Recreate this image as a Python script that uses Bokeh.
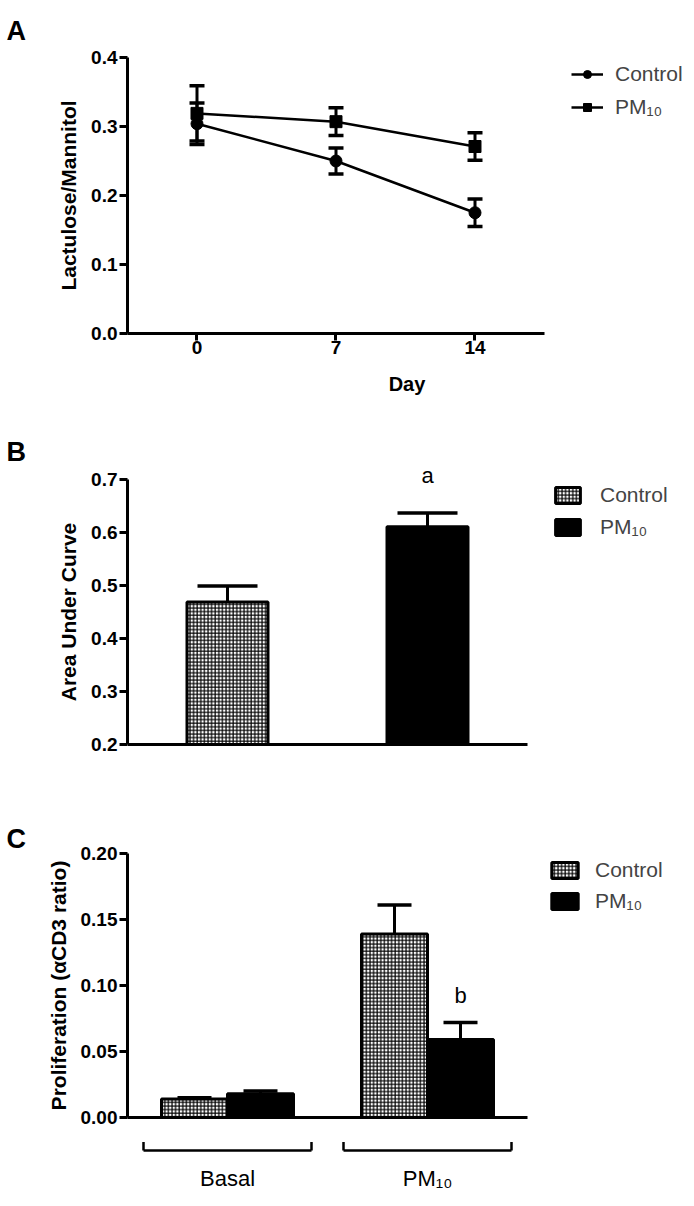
from bokeh.plotting import figure
from bokeh.models import (ColumnDataSource, Whisker, TeeHead, FixedTicker, Legend,
                          LegendItem, NumeralTickFormatter, Range1d)
from bokeh.layouts import column
from bokeh.embed import file_html
from bokeh.resources import INLINE

FONT = "Liberation Sans"

# ---------------- data ----------------
# Panel A
days = [0, 7, 14]
ctrl_ratio = [0.304, 0.250, 0.175]
ctrl_sem = [0.030, 0.019, 0.020]
pm_ratio = [0.319, 0.307, 0.271]
pm_sem = [0.040, 0.020, 0.020]
a_yticks = [0.0, 0.1, 0.2, 0.3, 0.4]
a_xticks = [0, 7, 14]

# Panel B
groups_b = ["Control", "PM₁₀"]
auc = [0.469, 0.611]
auc_sem = [0.030, 0.026]
auc_sig = ["", "a"]
b_yticks = [0.2, 0.3, 0.4, 0.5, 0.6, 0.7]

# Panel C
stim = ["Basal", "PM₁₀"]
prol_ctrl = [0.014, 0.139]
prol_ctrl_sem = [0.001, 0.022]
prol_pm = [0.018, 0.059]
prol_pm_sem = [0.002, 0.013]
prol_sig = ["", "b"]
c_yticks = [0.0, 0.05, 0.10, 0.15, 0.20]

FRAME_W = 559   # frame spans from the y axis to the right edge


def style_axes(p):
    for ax in p.axis:
        ax.axis_line_width = 3
        ax.axis_line_color = "black"
        ax.major_tick_line_width = 3
        ax.major_tick_line_color = "black"
        ax.major_tick_out = 8
        ax.major_tick_in = 0
        ax.minor_tick_line_color = None
        ax.major_label_text_font = FONT
        ax.major_label_text_font_style = "bold"
        ax.major_label_text_font_size = "19px"
        ax.major_label_text_color = "black"
        ax.major_label_standoff = 2
        ax.axis_label_text_font = FONT
        ax.axis_label_text_font_style = "bold"
        ax.axis_label_text_font_size = "21px"
        ax.axis_label_text_color = "black"
        ax.axis_label_standoff = 8


def panel_letter(p, text, standoff):
    p.title.text = text
    p.title.align = "left"
    p.title.offset = -121
    p.title.text_font = FONT
    p.title.text_font_style = "bold"
    p.title.text_font_size = "27px"
    p.title.text_color = "black"
    p.title.standoff = standoff


def make_legend(items, x, y, gw, gh, spacing, standoff):
    return Legend(items=items, location=(x, y), orientation="vertical",
                  border_line_color=None, background_fill_alpha=0, padding=0, margin=0,
                  spacing=spacing, glyph_width=gw, glyph_height=gh, label_height=gh,
                  label_standoff=standoff, label_text_font=FONT, label_text_font_size="21px",
                  label_text_baseline="middle")


common = dict(output_backend="svg", toolbar_location=None, outline_line_color=None,
              min_border_left=127, min_border_right=0, frame_width=FRAME_W)

bar_styles = [dict(fill_color="white", hatch_pattern="cross", hatch_scale=3.6,
                   hatch_weight=1.2, hatch_color="black"),
              dict(fill_color="black")]

# ---------------- Panel A ----------------
pA = figure(frame_height=276, min_border_top=57, min_border_bottom=67,
            x_range=Range1d(-3.5, -3.5 + FRAME_W / 19.857), y_range=Range1d(0, 0.4),
            **common)
pA.grid.visible = False
pA.yaxis.ticker = FixedTicker(ticks=a_yticks)
pA.yaxis.formatter = NumeralTickFormatter(format="0.0")
pA.xaxis.ticker = FixedTicker(ticks=a_xticks)
pA.xaxis.bounds = (-3.5, 17.5)
pA.yaxis.axis_label = "Lactulose/Mannitol"
pA.xaxis.axis_label = "Day"
style_axes(pA)
pA.xaxis.major_tick_out = 7
pA.xaxis.major_label_standoff = 0
pA.xaxis.axis_label_standoff = 16
pA.xaxis.axis_label_text_font_size = "20px"

renA = []
for ys, es, mk in [(ctrl_ratio, ctrl_sem, "circle"), (pm_ratio, pm_sem, "square")]:
    src = ColumnDataSource(dict(x=days, y=ys,
                                lo=[a - b for a, b in zip(ys, es)],
                                hi=[a + b for a, b in zip(ys, es)]))
    ln = pA.line("x", "y", source=src, line_width=2.5, line_color="black")
    sc = pA.scatter("x", "y", source=src, marker=mk, size=12, fill_color="black",
                    line_color="black")
    pA.add_layout(Whisker(source=src, base="x", lower="lo", upper="hi", line_width=3,
                          line_color="black", level="glyph",
                          upper_head=TeeHead(size=15, line_width=3.5, line_color="black"),
                          lower_head=TeeHead(size=15, line_width=3.5, line_color="black")))
    renA.append([ln, sc])

pA.add_layout(make_legend([LegendItem(label="Control", renderers=renA[0]),
                           LegendItem(label="PM₁₀", renderers=renA[1])],
                          444, 214, 32, 20, 9, 12))
panel_letter(pA, "A", 24)

# ---------------- Panel B ----------------
B_EXT = 12 * 0.5 / 265
pB = figure(frame_height=289, min_border_top=67, min_border_bottom=34,
            x_range=Range1d(0.5, 0.5 + FRAME_W / 200), y_range=Range1d(0.2 - B_EXT, 0.7 + B_EXT),
            **common)
pB.grid.visible = False
pB.yaxis.ticker = FixedTicker(ticks=b_yticks)
pB.yaxis.formatter = NumeralTickFormatter(format="0.0")
pB.yaxis.bounds = (0.2, 0.7)
pB.yaxis.axis_label = "Area Under Curve"
style_axes(pB)
pB.xaxis.ticker = FixedTicker(ticks=[])
pB.xaxis.fixed_location = 0.2
pB.xaxis.bounds = (0.5, 2.5)

xb = [1, 2]
renB = []
for i in range(2):
    r = pB.vbar(x=[xb[i]], top=[auc[i]], bottom=0.2, width=0.405, line_color="black",
                line_width=3, **bar_styles[i])
    renB.append(r)
srcB = ColumnDataSource(dict(x=xb, y=auc, hi=[a + b for a, b in zip(auc, auc_sem)],
                             sig=auc_sig))
pB.add_layout(Whisker(source=srcB, base="x", lower="y", upper="hi", line_width=3,
                      line_color="black", level="glyph",
                      upper_head=TeeHead(size=60, line_width=3.5, line_color="black"),
                      lower_head=None))
pB.text(x="x", y="hi", text="sig", source=srcB, y_offset=-37, text_align="center",
        text_baseline="middle", text_font_size="22px", text_font={"value": FONT})
pB.add_layout(make_legend([LegendItem(label=groups_b[0], renderers=[renB[0]]),
                           LegendItem(label=groups_b[1], renderers=[renB[1]])],
                          425, 217, 31, 20, 8, 17))
panel_letter(pB, "B", 2)

# ---------------- Panel C ----------------
pC = figure(frame_height=264, min_border_top=63, min_border_bottom=14,
            x_range=Range1d(0.5, 0.5 + FRAME_W / 200), y_range=Range1d(0, 0.2), **common)
pC.grid.visible = False
pC.yaxis.ticker = FixedTicker(ticks=c_yticks)
pC.yaxis.formatter = NumeralTickFormatter(format="0.00")
pC.yaxis.axis_label = "Proliferation (αCD3 ratio)"
style_axes(pC)
pC.xaxis.ticker = FixedTicker(ticks=[])
pC.xaxis.major_tick_out = 0
pC.xaxis.bounds = (0.5, 2.5)

xc = [1, 2]
DODGE = 0.165
renC = []
for vals, sems, off, st in [(prol_ctrl, prol_ctrl_sem, -DODGE, bar_styles[0]),
                            (prol_pm, prol_pm_sem, DODGE, bar_styles[1])]:
    xs = [x + off for x in xc]
    r = pC.vbar(x=xs, top=vals, bottom=0, width=0.33, line_color="black", line_width=3, **st)
    renC.append(r)
    s = ColumnDataSource(dict(x=xs, y=vals, hi=[a + b for a, b in zip(vals, sems)]))
    pC.add_layout(Whisker(source=s, base="x", lower="y", upper="hi", line_width=3,
                          line_color="black", level="glyph",
                          upper_head=TeeHead(size=34, line_width=3.5, line_color="black"),
                          lower_head=None))
srcSig = ColumnDataSource(dict(x=[x + DODGE for x in xc],
                               hi=[a + b for a, b in zip(prol_pm, prol_pm_sem)],
                               sig=prol_sig))
pC.text(x="x", y="hi", text="sig", source=srcSig, y_offset=-27, text_align="center",
        text_baseline="middle", text_font_size="22px", text_font={"value": FONT})
pC.add_layout(make_legend([LegendItem(label=groups_b[0], renderers=[renC[0]]),
                           LegendItem(label=groups_b[1], renderers=[renC[1]])],
                          421, 204, 33, 20, 7, 14))
panel_letter(pC, "C", 0)

# ---------------- group brackets under panel C ----------------
pD = figure(frame_height=62, min_border_top=0, min_border_bottom=0,
            x_range=pC.x_range, y_range=Range1d(-62, 0),
            x_axis_location=None, y_axis_location=None, **common)
pD.grid.visible = False
BR_Y, BR_TICK, BR_HALF, LAB_Y = -19, 8.5, 0.42, -47
left_ends = [x - BR_HALF for x in xc]
right_ends = [x + BR_HALF for x in xc]
pD.segment(x0=left_ends, x1=right_ends, y0=[BR_Y] * 2, y1=[BR_Y] * 2,
           line_color="black", line_width=2.5)
pD.segment(x0=left_ends + right_ends, x1=left_ends + right_ends,
           y0=[BR_Y] * 4, y1=[BR_Y + BR_TICK] * 4, line_color="black", line_width=2.5)
pD.text(x=xc, y=[LAB_Y] * 2, text=stim, text_align="center", text_baseline="middle",
        text_font_size="22px", text_font={"value": FONT})

layout = column(pA, pB, pC, pD, spacing=0)
open("out.html", "w").write(file_html(layout, INLINE))
